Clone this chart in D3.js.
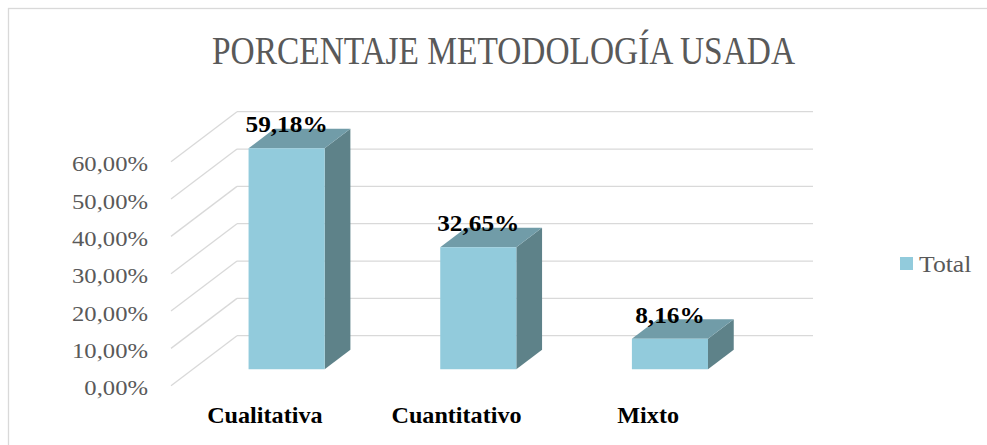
<!DOCTYPE html>
<html>
<head>
<meta charset="utf-8">
<script src="https://cdn.jsdelivr.net/npm/d3@7"></script>
<style>
  body { margin: 0; background: #fff; }
  svg { display: block; }
</style>
</head>
<body>
<div id="chart"></div>
<script>
// data
var categories = ["Cualitativa", "Cuantitativo", "Mixto"];
var values = [59.18, 32.65, 8.16];
var yTicks = [0, 10, 20, 30, 40, 50, 60];
var seriesName = "Total";
var title = "PORCENTAJE METODOLOGÍA USADA";

var width = 987, height = 445;
var font = "'Liberation Serif', 'DejaVu Serif', serif";

// 3d depth offset (front plane -> back wall)
var depthX = 66, depthY = -50;
var barFront = 0.33, barBack = 0.72;

var svg = d3.select("#chart")
        .append("svg")
        .attr("width", width)
        .attr("height", height);

// widen Times glyphs a bit so they take Cambria's room
function stretch(sel, k){
        sel.each(function(){
                var w = this.getComputedTextLength();
                d3.select(this)
                        .attr("textLength", w * k)
                        .attr("lengthAdjust", "spacingAndGlyphs");
        });
}

// outer border (only top and left visible)
svg.append("rect")
        .attr("x", 8.5)
        .attr("y", 8.5)
        .attr("width", 1200)
        .attr("height", 1200)
        .attr("fill", "none")
        .attr("stroke", "#d9d9d9")
        .attr("stroke-width", 1.3);

svg.append("text")
        .attr("x", 503.5)
        .attr("y", 64.3)
        .attr("text-anchor", "middle")
        .attr("font-family", font)
        .attr("font-size", 39)
        .attr("fill", "#595959")
        .attr("textLength", 583)
        .attr("lengthAdjust", "spacingAndGlyphs")
        .text(title);

var y = d3.scaleLinear()
        .domain([0, 60])
        .range([385.7, 161.7]);

var x = d3.scaleBand()
        .domain(categories)
        .range([169, 744]);

var wallLeft = 171, wallRight = 813;

// gridlines: side wall diagonals + back wall horizontals
var grid = svg.append("g")
        .attr("stroke", "#d9d9d9")
        .attr("stroke-width", 1.3)
        .attr("fill", "none");

yTicks.forEach(function(v){
        grid.append("line")
                .attr("x1", wallLeft)
                .attr("y1", y(v))
                .attr("x2", wallLeft + depthX)
                .attr("y2", y(v) + depthY);
        grid.append("line")
                .attr("x1", wallLeft + depthX)
                .attr("y1", y(v) + depthY)
                .attr("x2", wallRight)
                .attr("y2", y(v) + depthY);
});

// y axis labels
var fmtPct = function(v){ return v.toFixed(2).replace(".", ",") + "%"; };

var yAxis = svg.append("g")
        .attr("transform", "translate(" + wallLeft + ",2)")
        .call(d3.axisLeft(y).tickValues(yTicks).tickSize(0).tickPadding(23).tickFormat(fmtPct));
yAxis.select(".domain").remove();
yAxis.selectAll("text")
        .attr("font-family", font)
        .attr("font-size", 22)
        .attr("fill", "#595959")
        .call(stretch, 1.12);

// category labels
var xAxis = svg.append("g")
        .attr("transform", "translate(0," + y(0) + ")")
        .call(d3.axisBottom(x).tickSize(0).tickPadding(21));
xAxis.select(".domain").remove();
xAxis.selectAll("text")
        .attr("font-family", font)
        .attr("font-size", 23)
        .attr("font-weight", "bold")
        .attr("fill", "#000")
        .call(stretch, 1.05);

// project a point (front-plane x, value, depth fraction) to screen
function pt(px, v, f){
        return [px + f * depthX, y(v) + f * depthY];
}

var barW = x.bandwidth() * 0.397;

var bars = svg.append("g");
var labels = svg.append("g");
categories.forEach(function(c, i){
        var cx = x(c) + x.bandwidth() / 2;
        var l = cx - barW / 2, r = cx + barW / 2, v = values[i];

        var side = [pt(r, v, barFront), pt(r, v, barBack), pt(r, 0, barBack), pt(r, 0, barFront)];
        var top = [pt(l, v, barFront), pt(r, v, barFront), pt(r, v, barBack), pt(l, v, barBack)];
        var front = [pt(l, v, barFront), pt(r, v, barFront), pt(r, 0, barFront), pt(l, 0, barFront)];

        bars.append("polygon")
                .attr("points", side.join(" "))
                .attr("fill", "#5e8289");
        bars.append("polygon")
                .attr("points", top.join(" "))
                .attr("fill", "#719ca8");
        bars.append("polygon")
                .attr("points", front.join(" "))
                .attr("fill", "#92cbdc");

        var p = pt(cx, v, barFront);
        labels.append("text")
                .attr("x", p[0])
                .attr("y", p[1] - 16)
                .attr("text-anchor", "middle")
                .attr("font-family", font)
                .attr("font-size", 23)
                .attr("font-weight", "bold")
                .attr("fill", "#000")
                .text(fmtPct(v));
});
labels.selectAll("text").call(stretch, 1.1);

// legend
svg.append("rect")
        .attr("x", 900)
        .attr("y", 257)
        .attr("width", 13)
        .attr("height", 13)
        .attr("fill", "#92cbdc");

svg.append("text")
        .attr("x", 919)
        .attr("y", 271.5)
        .attr("font-family", font)
        .attr("font-size", 24)
        .attr("fill", "#595959")
        .text(seriesName)
        .call(stretch, 1.07);
</script>
</body>
</html>
